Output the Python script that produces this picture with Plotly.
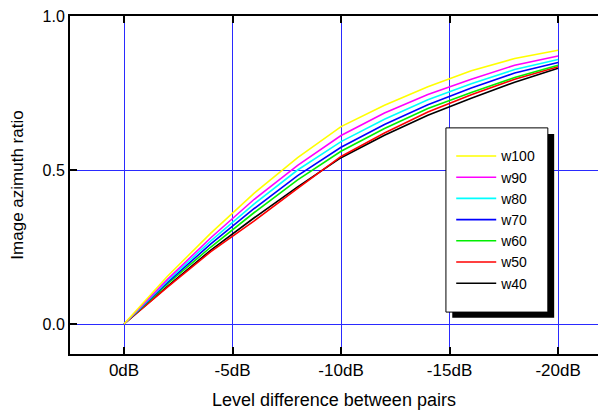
import plotly.graph_objects as go

level_db = [0, -2, -4, -6, -8, -10, -12, -14, -16, -18, -20]
w100 = [0, 0.155, 0.295, 0.425, 0.540, 0.641, 0.710, 0.770, 0.822, 0.862, 0.889]
w90 = [0, 0.145, 0.280, 0.405, 0.515, 0.612, 0.685, 0.745, 0.795, 0.840, 0.870]
w80 = [0, 0.140, 0.270, 0.390, 0.500, 0.592, 0.665, 0.728, 0.780, 0.826, 0.859]
w70 = [0, 0.135, 0.260, 0.375, 0.482, 0.574, 0.648, 0.712, 0.766, 0.815, 0.849]
w60 = [0, 0.130, 0.250, 0.362, 0.468, 0.561, 0.635, 0.700, 0.752, 0.800, 0.840]
w50 = [0, 0.120, 0.235, 0.335, 0.440, 0.544, 0.620, 0.688, 0.744, 0.795, 0.835]
w40 = [0, 0.122, 0.240, 0.345, 0.445, 0.540, 0.613, 0.678, 0.733, 0.785, 0.830]

x_tick_vals = [0, -5, -10, -15, -20]
x_tick_text = ["0dB", "-5dB", "-10dB", "-15dB", "-20dB"]
y_tick_vals = [0.0, 0.5, 1.0]
y_tick_text = ["0.0", "0.5", "1.0"]

# drawn in this order (yellow on top); legend lists w100 first
series = [
    ("w40", w40, "#000000", 7),
    ("w50", w50, "#ff0000", 6),
    ("w60", w60, "#00ee00", 5),
    ("w70", w70, "#0000ff", 4),
    ("w80", w80, "#00ffff", 3),
    ("w90", w90, "#ff00ff", 2),
    ("w100", w100, "#ffff00", 1),
]

FONT = "Liberation Sans, Arial, Helvetica, sans-serif"

fig = go.Figure()
for name, vals, color, rank in series:
    fig.add_trace(go.Scatter(
        x=level_db, y=vals, name=name, mode="lines",
        line=dict(color=color, width=1.6),
        legendrank=rank,
    ))

# legend box with drop shadow
fig.add_shape(type="rect", xref="paper", yref="paper",
              x0=0.724, x1=0.917, y0=0.107, y1=0.651,
              fillcolor="black", line=dict(width=0), layer="above")
fig.add_shape(type="rect", xref="paper", yref="paper",
              x0=0.712, x1=0.905, y0=0.124, y1=0.669,
              fillcolor="white", line=dict(color="black", width=1), layer="above")

fig.update_layout(
    width=598, height=410,
    margin=dict(l=70, r=0, t=16, b=56, autoexpand=False),
    paper_bgcolor="white", plot_bgcolor="white",
    font=dict(family=FONT, color="black", size=16),
    showlegend=True, hovermode=False,
    legend=dict(
        x=0.722, y=0.632, xanchor="left", yanchor="top",
        bgcolor="rgba(0,0,0,0)", borderwidth=0,
        font=dict(size=14, family=FONT),
        itemwidth=40,
    ),
    xaxis=dict(
        range=[2.49, -21.84],
        tickvals=x_tick_vals, ticktext=x_tick_text,
        showgrid=True, gridcolor="#2a2aff", gridwidth=1,
        zeroline=False, automargin=False,
        showline=True, linecolor="black", linewidth=2, mirror="ticks",
        ticks="inside", ticklen=7, tickwidth=2, tickcolor="black",
        tickfont=dict(size=17),
        title=dict(text="Level difference between pairs", font=dict(size=18)),
    ),
    yaxis=dict(
        range=[-0.0974, 1.0],
        tickvals=y_tick_vals, ticktext=y_tick_text,
        showgrid=True, gridcolor="#2a2aff", gridwidth=1,
        zeroline=False, automargin=False,
        showline=True, linecolor="black", linewidth=2,
        ticks="inside", ticklen=7, tickwidth=2, tickcolor="black",
        tickfont=dict(size=16),
        title=dict(text="Image azimuth ratio", font=dict(size=17)),
    ),
)

fig.write_html("out.html", config={"displayModeBar": False},
               post_script="document.body.style.margin='0';")
